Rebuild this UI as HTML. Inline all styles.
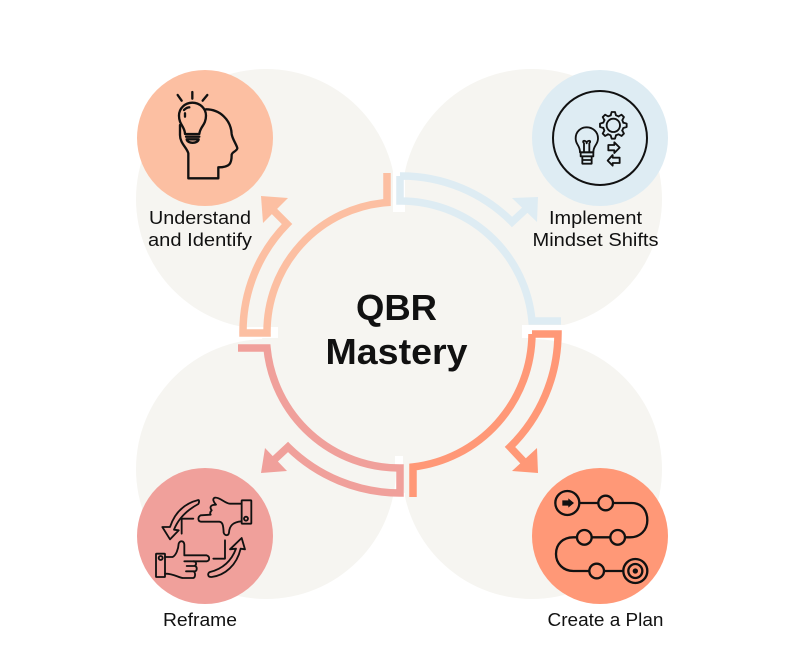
<!DOCTYPE html>
<html><head><meta charset="utf-8"><style>
html,body{margin:0;padding:0;background:#fff;width:800px;height:670px;overflow:hidden}
svg{display:block}
text{font-family:"Liberation Sans",sans-serif;fill:#111}
</style></head><body>
<svg width="800" height="670" viewBox="0 0 800 670" xmlns="http://www.w3.org/2000/svg">
<g fill="#f6f5f1">
<circle cx="266" cy="199" r="130"/><circle cx="532" cy="199" r="130"/>
<circle cx="266" cy="469" r="130"/><circle cx="532" cy="469" r="130"/>
<circle cx="397" cy="332" r="135"/>
</g>
<g fill="#fff">
<rect x="393" y="165" width="12" height="47"/>
<rect x="232" y="327" width="46" height="11"/>
<rect x="522" y="325" width="44" height="13"/>
<rect x="395" y="456" width="8" height="12"/>
<rect x="393" y="493" width="12" height="12"/>
</g>
<g fill="none" stroke-width="7.500" stroke-linejoin="miter">
<path stroke="#fcbfa2" d="M387 173V202.500A130 130 0 0 0 267 333H243A154 154 0 0 1 287 224L274 211"/>
<path stroke="#deecf3" d="M400 176A156 156 0 0 1 512 222L525 210M400 176V201A132 132 0 0 1 532 321H561"/>
<path stroke="#ff9877" d="M532 334A135 135 0 0 1 413 467V497M532 334H558A160 160 0 0 1 510 447L526 464"/>
<path stroke="#f0a09b" d="M238 348H267A133 133 0 0 0 400 468V493A160 160 0 0 1 288 447L274 460"/>
</g>
<polygon fill="#fcbfa2" points="261,196 288,198 263,223"/>
<polygon fill="#deecf3" points="538,197 512,198 537,222"/>
<polygon fill="#ff9877" points="538,473 537,448 512,471"/>
<polygon fill="#f0a09b" points="261,473 265,448 287,471"/>

<circle cx="205" cy="138" r="68" fill="#fcbfa2"/>
<circle cx="600" cy="138" r="68" fill="#deecf3"/>
<circle cx="205" cy="536" r="68" fill="#f0a09b"/>
<circle cx="600" cy="536" r="68" fill="#ff9877"/>

<!-- head + bulb -->
<g transform="translate(130,60) scale(.3333)" fill="none" stroke="#111" stroke-width="7" stroke-linecap="round" stroke-linejoin="round">
<path d="M143 105L155 122M187 96V116M232 105L218 122"/>
<path d="M165 222C165 200 147 195 147 167C147 145 165 128 187 128C209 128 228 145 228 167C228 195 210 200 208 222Z"/>
<path d="M168 230H208M170 238H206C204 252 172 252 170 238Z"/>
<path d="M162 150C168 144 172 142 178 142M165 170V160"/>
<path d="M228 148C270 148 303 180 305 222C306 235 322 258 322 265C320 275 305 275 305 285C305 310 300 322 265 322V355H175V280C170 262 150 250 150 225V195"/>
</g>

<!-- ring, gear, bulb, arrows -->
<circle cx="600" cy="138" r="47" fill="none" stroke="#111" stroke-width="2"/>
<g transform="translate(525,65) scale(.3333)" fill="none" stroke="#111" stroke-width="5.500" stroke-linejoin="round" stroke-linecap="round">
<circle cx="265" cy="181" r="20"/>
<g transform="translate(265,181)">
<path d="M-8 -30L-5 -40H5L8 -30L16 -26.600"/>
<path transform="rotate(45)" d="M-8 -30L-5 -40H5L8 -30L16 -26.600"/>
<path transform="rotate(90)" d="M-8 -30L-5 -40H5L8 -30L16 -26.600"/>
<path transform="rotate(135)" d="M-8 -30L-5 -40H5L8 -30L16 -26.600"/>
<path transform="rotate(180)" d="M-8 -30L-5 -40H5L8 -30L16 -26.600"/>
<path transform="rotate(225)" d="M-8 -30L-5 -40H5L8 -30L16 -26.600"/>
<path transform="rotate(270)" d="M-8 -30L-5 -40H5L8 -30L16 -26.600"/>
<path transform="rotate(315)" d="M-8 -30L-5 -40H5L8 -30L16 -26.600"/>
</g>
<path d="M165 262C165 240 152 240 152 220C152 200 167 187 185 187C203 187 219 200 219 220C219 240 205 240 205 262Z"/>
<path d="M167 262H205V274H167ZM172 274H200V296H172ZM172 285H200M177 262V235M193 262V235M177 235C168 225 185 225 185 235C185 225 202 225 193 235"/>
<path d="M250 240H268V232L284 248L268 264V256H250Z"/>
<path d="M284 278H263V270L248 287L263 302V294H284Z"/>
</g>

<!-- hands -->
<g transform="translate(130,462) scale(.3333)" fill="none" stroke="#111" stroke-width="5.500" stroke-linejoin="round" stroke-linecap="round">
<rect x="335" y="115" width="29" height="70" rx="2"/>
<circle cx="348" cy="170" r="6"/>
<path d="M335 125H300C285 125 270 105 255 107C245 110 252 122 258 128C242 128 238 135 245 145C240 150 240 155 242 158L212 160C203 165 203 177 212 179H268C278 180 280 190 281 212C285 222 295 222 297 212C298 195 305 180 335 178"/>
<path d="M205 114C165 124 135 150 120 195L97 195L120 232L146 205L132 203C145 170 170 145 205 126C208 122 208 114 205 114Z"/>
<path d="M155 215V170H190M285 235V290H250"/>
<rect x="78" y="275" width="27" height="70" rx="2"/>
<circle cx="92" cy="288" r="6"/>
<path d="M105 285H128C138 280 145 262 146 245C150 235 162 235 163 248V280H230C240 283 240 296 230 298H190"/>
<path d="M163 298H193C200 300 200 310 193 312H170M170 312H195C202 314 202 326 195 328H170M168 328H190C197 330 197 346 190 348H160C145 348 135 335 105 335"/>
<path d="M240 330C280 320 305 295 318 260L300 262L335 228L345 262L332 260C320 310 285 340 245 345C232 346 232 333 240 330Z"/>
</g>

<!-- roadmap -->
<g transform="translate(525,462) scale(.3333)" fill="none" stroke="#111" stroke-width="7">
<path d="M162 123H320C350 123 367 145 367 175C367 205 345 226 315 226H145C115 226 93 245 93 276C93 305 115 327 145 327H295"/>
<circle cx="127" cy="123" r="36" fill="#ff9877"/>
<circle cx="242" cy="123" r="22" fill="#ff9877"/>
<circle cx="278" cy="226" r="22" fill="#ff9877"/>
<circle cx="178" cy="226" r="22" fill="#ff9877"/>
<circle cx="215" cy="327" r="22" fill="#ff9877"/>
<circle cx="331" cy="327" r="36" fill="#ff9877"/>
<circle cx="331" cy="327" r="21"/>
<circle cx="331" cy="327" r="8" fill="#111" stroke="none"/>
<path d="M112 115H130V109L147 123L130 137V131H112Z" fill="#111" stroke="none"/>
</g>

<text x="396.500" y="320" text-anchor="middle" font-size="36" font-weight="700" textLength="81" lengthAdjust="spacingAndGlyphs" fill="#000">QBR</text>
<text x="396.500" y="364" text-anchor="middle" font-size="36" font-weight="700" textLength="142" lengthAdjust="spacingAndGlyphs" fill="#000">Mastery</text>
<g font-size="18">
<text x="200" y="224" text-anchor="middle" textLength="102" lengthAdjust="spacingAndGlyphs">Understand</text>
<text x="200" y="246" text-anchor="middle" textLength="104" lengthAdjust="spacingAndGlyphs">and Identify</text>
<text x="595.500" y="224" text-anchor="middle" textLength="93" lengthAdjust="spacingAndGlyphs">Implement</text>
<text x="595.500" y="246" text-anchor="middle" textLength="126" lengthAdjust="spacingAndGlyphs">Mindset Shifts</text>
<text x="200" y="626" text-anchor="middle" textLength="74" lengthAdjust="spacingAndGlyphs">Reframe</text>
<text x="605.500" y="626" text-anchor="middle" textLength="116" lengthAdjust="spacingAndGlyphs">Create a Plan</text>
</g>
</svg>
</body></html>
